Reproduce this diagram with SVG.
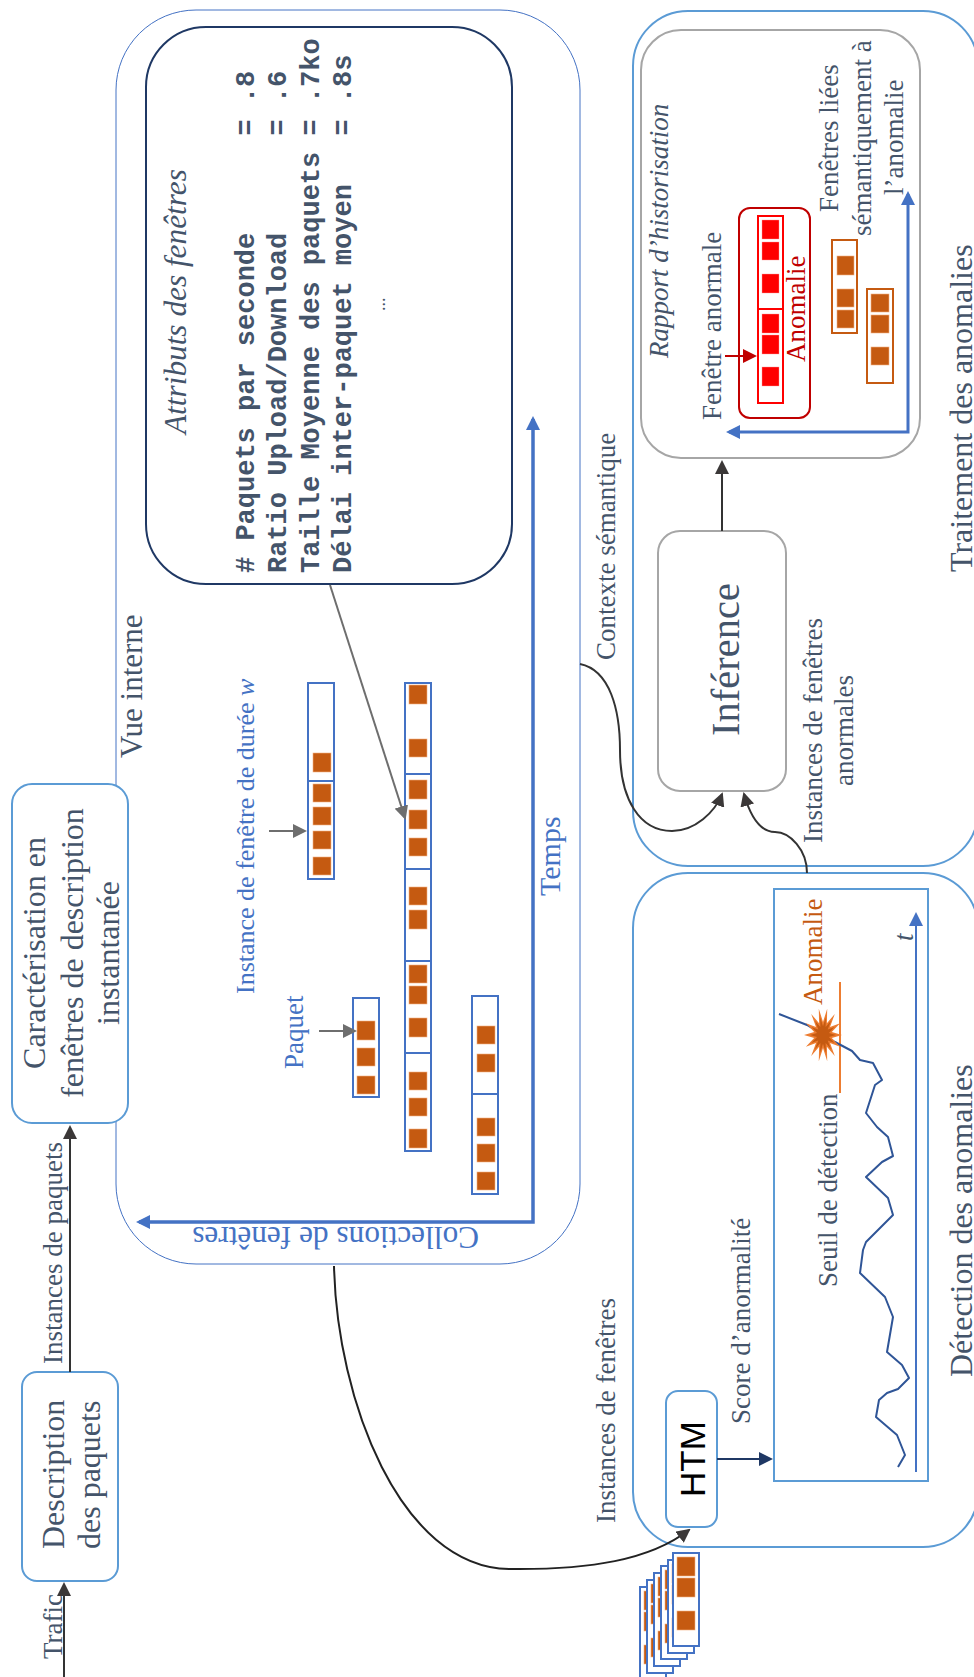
<svg xmlns="http://www.w3.org/2000/svg" width="974" height="1677" viewBox="0 0 974 1677">
<style>
text{font-family:"Liberation Serif","Times New Roman",serif;font-size:27px;fill:#44546A}
.b{fill:#4472C4}
.m{font-family:"Liberation Mono","Courier New",monospace;font-weight:bold;white-space:pre}
.box{fill:none;stroke:#5B9BD5;stroke-width:2}
.wbox{fill:#fff;stroke:#5B9BD5;stroke-width:2}
.win{fill:#fff;stroke:#4472C4;stroke-width:2}
.sq{fill:#C55A11;stroke:#F4B183;stroke-width:.6}
.rs{fill:#FF0000;stroke:#FF9999;stroke-width:.4}
.ow{fill:#fff;stroke:#C55A11;stroke-width:2}
.div{stroke:#4472C4;stroke-width:2;fill:none}
.k{fill:none;stroke:#333;stroke-width:2}
.g{fill:none;stroke:#6E6E6E;stroke-width:2}
.ax{fill:none;stroke:#4472C4;stroke-width:3.5}
.curve{fill:none;stroke:#2F5597;stroke-width:2;stroke-linejoin:round}
</style>
<defs>
<marker id="ak" markerUnits="userSpaceOnUse" markerWidth="14" markerHeight="14" refX="12" refY="7" orient="auto"><path d="M0,0L14,7L0,14Z" fill="#3B3838"/></marker>
<marker id="ag" markerUnits="userSpaceOnUse" markerWidth="14" markerHeight="14" refX="12" refY="7" orient="auto"><path d="M0,0L14,7L0,14Z" fill="#6E6E6E"/></marker>
<marker id="ab" markerUnits="userSpaceOnUse" markerWidth="14" markerHeight="14" refX="11" refY="7" orient="auto-start-reverse"><path d="M0,0L14,7L0,14Z" fill="#4472C4"/></marker>
<marker id="an" markerUnits="userSpaceOnUse" markerWidth="14" markerHeight="14" refX="12" refY="7" orient="auto"><path d="M0,0L14,7L0,14Z" fill="#1F3864"/></marker>
<marker id="ar" markerUnits="userSpaceOnUse" markerWidth="14" markerHeight="14" refX="12" refY="7" orient="auto"><path d="M0,0L14,7L0,14Z" fill="#C00000"/></marker>
<g id="stackwin">
<rect class="win" x="673" y="1553" width="26" height="93"/>
<rect class="sq" x="677" y="1557" width="18" height="19"/>
<rect class="sq" x="677" y="1578" width="18" height="19"/>
<rect class="sq" x="677" y="1611" width="18" height="19"/>
</g>
<polygon id="starp" points="842,1035 831.8,1037.9 840.1,1046.7 830,1043.1 834.8,1056.1 826.9,1046.7 827.2,1061.3 823,1048 818.8,1061.3 819.1,1046.7 811.2,1056.1 816,1043.1 805.9,1046.7 814.2,1037.9 804,1035 814.2,1032.1 805.9,1023.3 816,1026.9 811.2,1013.9 819.1,1023.3 818.8,1008.7 823,1022 827.2,1008.7 826.9,1023.3 834.8,1013.9 830,1026.9 840.1,1023.3 831.8,1032.1"/>
</defs>

<g id="description-paquets">
<rect class="wbox" x="22" y="1372" width="96" height="209" rx="15"/>
<text style="font-size:32px" transform="translate(64,1549) rotate(-90)">Description</text>
<text style="font-size:32px" transform="translate(100,1549) rotate(-90)">des paquets</text>
</g>
<g id="label-trafic"><text transform="translate(62,1659) rotate(-90)">Trafic</text></g>
<g id="label-instances-paquets"><text transform="translate(62,1364) rotate(-90)">Instances de paquets</text></g>

<g id="vue-interne">
<rect x="116" y="10" width="464" height="1254" rx="80" fill="#fff" stroke="#4472C4" stroke-width="1"/>
<text style="font-size:31px" transform="translate(142,758) rotate(-90)">Vue interne</text>
<path class="ax" d="M533,419V1222H139" marker-start="url(#ab)" marker-end="url(#ab)"/>
<text class="b" style="font-size:30px" transform="translate(560,896) rotate(-90)">Temps</text>
<text class="b" style="font-size:31.3px" transform="translate(479,1227) rotate(180)">Collections de fenêtres</text>
<text class="b" style="font-size:26px" transform="translate(254,994) rotate(-90)">Instance de fenêtre de durée <tspan class="b" font-style="italic">w</tspan></text>
<text class="b" transform="translate(303,1069) rotate(-90)">Paquet</text>
</g>

<g id="caracterisation">
<rect class="wbox" x="12" y="784" width="116" height="339" rx="20"/>
<text style="font-size:32px" text-anchor="middle" transform="translate(45,953) rotate(-90)">Caractérisation en</text>
<text style="font-size:32px" text-anchor="middle" transform="translate(83,953) rotate(-90)">fenêtres de description</text>
<text style="font-size:32px" text-anchor="middle" transform="translate(119,953) rotate(-90)">instantanée</text>
</g>

<g id="attributs">
<rect x="146" y="27" width="366" height="557" rx="60" fill="#fff" stroke="#1F3864" stroke-width="2"/>
<text style="font-size:31.3px;font-style:italic" transform="translate(186,434) rotate(-90)">Attributs des fenêtres</text>
<text class="m" style="font-size:27px" transform="translate(254,573) rotate(-90)"># Paquets par seconde      = .8</text>
<text class="m" style="font-size:27px" transform="translate(286,573) rotate(-90)">Ratio Upload/Download      = .6</text>
<text class="m" style="font-size:27px" transform="translate(319,573) rotate(-90)">Taille Moyenne des paquets = .7ko</text>
<text class="m" style="font-size:27px" transform="translate(351,573) rotate(-90)">Délai inter-paquet moyen   = .8s</text>
<text style="font-size:18px" transform="translate(385,311) rotate(-90)">...</text>
</g>

<g id="fenetre-instance">
<rect class="win" x="308" y="683" width="26" height="196"/>
<path class="div" d="M308,781H334"/>
<g class="sq"><rect x="313" y="753" width="18" height="19"/><rect x="313" y="784" width="18" height="18"/><rect x="313" y="807" width="18" height="18"/><rect x="313" y="831" width="18" height="18"/><rect x="313" y="857" width="18" height="18"/></g>
</g>
<g id="fenetre-paquet">
<rect class="win" x="353" y="998" width="26" height="99"/>
<g class="sq"><rect x="357" y="1021" width="18" height="19"/><rect x="357" y="1048" width="18" height="18"/><rect x="357" y="1076" width="18" height="18"/></g>
</g>
<g id="fenetres-collection">
<rect class="win" x="405" y="683" width="26" height="468"/>
<path class="div" d="M405,774H431M405,869H431M405,961H431M405,1053H431"/>
<g class="sq"><rect x="409" y="685" width="18" height="19"/><rect x="409" y="739" width="18" height="18"/><rect x="409" y="780" width="18" height="19"/><rect x="409" y="810" width="18" height="19"/><rect x="409" y="838" width="18" height="18"/><rect x="409" y="887" width="18" height="18"/><rect x="409" y="910" width="18" height="19"/><rect x="409" y="965" width="18" height="18"/><rect x="409" y="986" width="18" height="18"/><rect x="409" y="1018" width="18" height="19"/><rect x="409" y="1072" width="18" height="18"/><rect x="409" y="1098" width="18" height="18"/><rect x="409" y="1129" width="18" height="19"/></g>
</g>
<g id="fenetres-bas">
<rect class="win" x="472" y="996" width="26" height="198"/>
<path class="div" d="M472,1094H498"/>
<g class="sq"><rect x="477" y="1026" width="18" height="18"/><rect x="477" y="1054" width="18" height="18"/><rect x="477" y="1118" width="18" height="18"/><rect x="477" y="1144" width="18" height="18"/><rect x="477" y="1172" width="18" height="18"/></g>
</g>

<g id="traitement">
<rect class="box" x="633" y="11" width="345" height="855" rx="55"/>
<text style="font-size:32px" transform="translate(972,572) rotate(-90)">Traitement des anomalies</text>
<text transform="translate(615,660) rotate(-90)">Contexte sémantique</text>
<text transform="translate(822,843) rotate(-90)">Instances de fenêtres</text>
<text transform="translate(853,786) rotate(-90)">anormales</text>
</g>
<g id="inference">
<rect x="658" y="531" width="128" height="260" rx="22" fill="#fff" stroke="#A6A6A6" stroke-width="2"/>
<text style="font-size:40.5px" transform="translate(739,736) rotate(-90)">Inférence</text>
</g>
<g id="rapport">
<rect x="641" y="30" width="279" height="428" rx="40" fill="#fff" stroke="#A6A6A6" stroke-width="2"/>
<text style="font-style:italic" transform="translate(668,358) rotate(-90)">Rapport d’historisation</text>
<text transform="translate(721,420) rotate(-90)">Fenêtre anormale</text>
<text transform="translate(838,212) rotate(-90)">Fenêtres liées</text>
<text transform="translate(871,236) rotate(-90)">sémantiquement à</text>
<text transform="translate(903,195) rotate(-90)">l’anomalie</text>
<path class="ax" style="stroke-width:3" d="M729,432H908V194" marker-start="url(#ab)" marker-end="url(#ab)"/>
<rect x="739" y="208" width="71" height="210" rx="11" fill="#fff" stroke="#C00000" stroke-width="2"/>
<rect x="758" y="216" width="25" height="187" fill="#fff" stroke="#FF0000" stroke-width="2"/>
<path d="M758,309H783" stroke="#FF0000" stroke-width="2"/>
<g class="rs"><rect x="762" y="220" width="17" height="19"/><rect x="762" y="242" width="17" height="18"/><rect x="762" y="274" width="17" height="19"/><rect x="762" y="314" width="17" height="19"/><rect x="762" y="335" width="17" height="19"/><rect x="762" y="367" width="17" height="19"/></g>
<text style="fill:#C00000" transform="translate(805,362) rotate(-90)">Anomalie</text>
<rect class="ow" x="832" y="240" width="25" height="93"/>
<g class="sq"><rect x="837" y="256" width="17" height="19"/><rect x="837" y="289" width="17" height="18"/><rect x="837" y="310" width="17" height="18"/></g>
<rect class="ow" x="867" y="289" width="26" height="94"/>
<g class="sq"><rect x="871" y="294" width="18" height="18"/><rect x="871" y="315" width="18" height="18"/><rect x="871" y="347" width="18" height="18"/></g>
</g>

<g id="detection">
<rect class="box" x="633" y="873" width="345" height="674" rx="55"/>
<text style="font-size:32px" transform="translate(972,1377) rotate(-90)">Détection des anomalies</text>
<text transform="translate(615,1523) rotate(-90)">Instances de fenêtres</text>
<text transform="translate(750,1424) rotate(-90)">Score d’anormalité</text>
</g>
<g id="graphe">
<rect class="box" x="774" y="889" width="154" height="592"/>
<path d="M916,1472V915" fill="none" stroke="#4472C4" stroke-width="2" marker-end="url(#ab)"/>
<text style="font-style:italic" transform="translate(913,941) rotate(-90)">t</text>
<text transform="translate(837,1287) rotate(-90)">Seuil de détection</text>
<text style="fill:#C55A11" transform="translate(822,1005) rotate(-90)">Anomalie</text>
<path d="M840,982V1093" stroke="#ED7D31" stroke-width="2" fill="none"/>
<path class="curve" d="M779,1014L807,1025L835,1042L852,1051L860,1060L873,1063L882,1080L875,1085L866,1113L877,1127L888,1137L893,1156L882,1162L866,1177L888,1198L893,1215L866,1242L863,1250L860,1273L885,1297L893,1317L887,1352L902,1365L909,1378L898,1389L887,1393L879,1400L876,1417L897,1435L905,1455L898,1467"/>
<use href="#starp" fill="#ED7D31"/>
<use href="#starp" fill="#C55A11" transform="translate(823,1035) scale(.68) translate(-823,-1035)"/>
</g>
<g id="htm">
<rect class="wbox" x="666" y="1391" width="51" height="136" rx="12"/>
<text style="font-family:'Liberation Sans',Arial,sans-serif;font-size:35px;fill:#000" transform="translate(705,1497) rotate(-90)">HTM</text>
</g>
<g id="pile-fenetres">
<use href="#stackwin" transform="translate(-33,34)"/>
<use href="#stackwin" transform="translate(-26,27)"/>
<use href="#stackwin" transform="translate(-19,20)"/>
<use href="#stackwin" transform="translate(-12,13)"/>
<use href="#stackwin" transform="translate(-5,7)"/>
<use href="#stackwin"/>
</g>

<g id="connectors">
<path class="k" d="M64,1677V1584" marker-end="url(#ak)"/>
<path class="k" d="M70,1372V1127" marker-end="url(#ak)"/>
<path class="g" d="M330,585L405,818" marker-end="url(#ag)"/>
<path class="g" d="M269,831H305" marker-end="url(#ag)"/>
<path class="g" d="M319,1031H355" marker-end="url(#ag)"/>
<path d="M725,356H755" fill="none" stroke="#C00000" stroke-width="2" marker-end="url(#ar)"/>
<path class="k" d="M722,531V462" marker-end="url(#ak)"/>
<path d="M717,1459H771" fill="none" stroke="#1F3864" stroke-width="2" marker-end="url(#an)"/>
<path d="M334,1266C337,1400 400,1567 509,1569C590,1570 650,1560 689,1530" fill="none" stroke="#222" stroke-width="2" marker-end="url(#ak)"/>
<path class="k" d="M580,664C610,670 620,710 620,750C620,800 640,831 672,831C695,831 715,812 722,794" marker-end="url(#ak)"/>
<path class="k" d="M807,873C807,850 790,832 775,832C760,832 750,815 744,794" marker-end="url(#ak)"/>
</g>
</svg>
